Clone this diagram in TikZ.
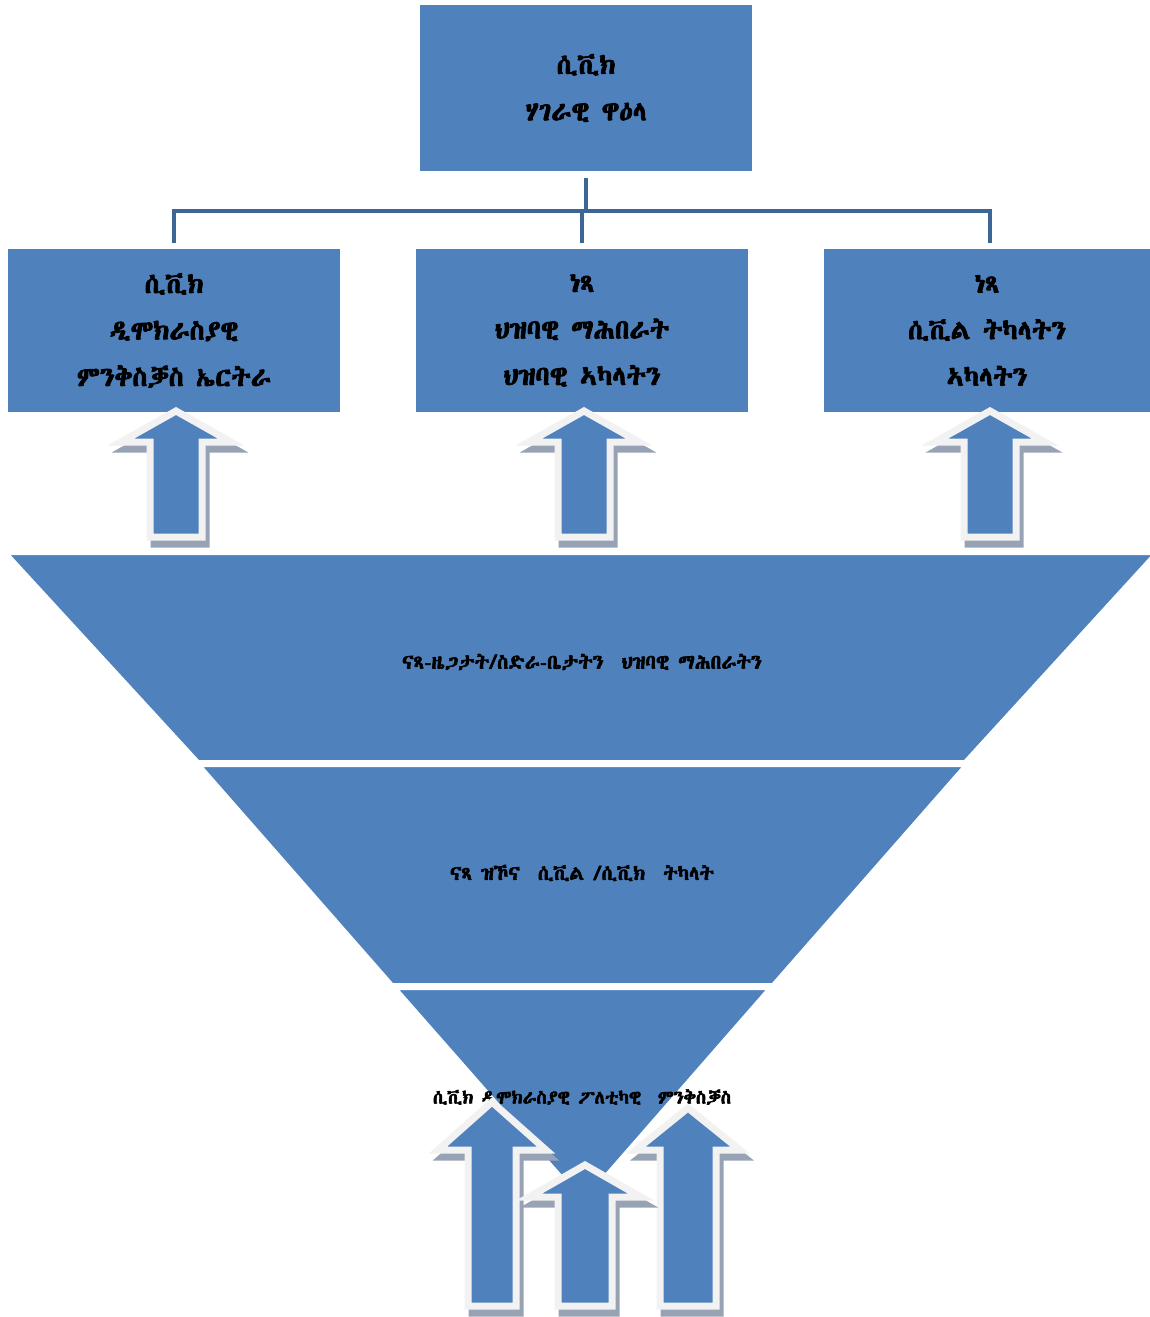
\documentclass[tikz,border=0pt]{standalone}
\usepackage{fontspec}
\IfFontExistsTF{Abyssinica SIL}{\newfontfamily\eth[AutoFakeBold=3]{Abyssinica SIL}}{%
 \IfFontExistsTF{FreeSerif}{\newfontfamily\eth[AutoFakeBold=3]{FreeSerif}}{%
  \IfFontExistsTF{Noto Sans Ethiopic}{\newfontfamily\eth[AutoFakeBold=3]{Noto Sans Ethiopic}}{%
   \newfontfamily\eth[AutoFakeBold=3]{DejaVu Sans}}}}
\definecolor{ofblue}{HTML}{4F81BD}
\definecolor{conncol}{HTML}{3C6696}
\definecolor{arrborder}{HTML}{F2F2F2}
\definecolor{arrshadow}{HTML}{97A3B5}
\tikzset{
  bluebox/.style={fill=ofblue, draw=none, inner sep=0pt, align=center, font=\eth\bfseries\fontsize{27}{46.5}\selectfont},
  conn/.style={draw=conncol, line width=4pt},
  layer/.style={fill=ofblue, draw=white, line width=4pt, line join=miter},
  funneltext/.style={font=\eth\bfseries\fontsize{20}{24}\selectfont, inner sep=0pt},
  arrbody/.style={fill=ofblue, draw=arrborder, line width=7pt, line join=miter},
  arrshad/.style={fill=arrshadow, draw=arrshadow, line width=7pt, line join=miter}
}
% #1 cx, #2 tip y, #3 head base y, #4 head half width, #5 shaft half width, #6 bottom y
\newcommand\uparr[6]{%
  \path[arrshad, shift={(4,7)}] (#1,#2) -- ({#1+#4},#3) -- ({#1+#5},#3) -- ({#1+#5},#6) -- ({#1-#5},#6) -- ({#1-#5},#3) -- ({#1-#4},#3) -- cycle;
  \path[arrbody] (#1,#2) -- ({#1+#4},#3) -- ({#1+#5},#3) -- ({#1+#5},#6) -- ({#1-#5},#6) -- ({#1-#5},#3) -- ({#1-#4},#3) -- cycle;
}
\begin{document}
\begin{tikzpicture}[x=1pt,y=-1pt]
\useasboundingbox[fill=white] (0,0) rectangle (1150,1317);

% top box and level-2 boxes
\node[bluebox, minimum width=332pt, minimum height=166pt] (top) at (586,88) {ሲቪክ\\ሃገራዊ ዋዕላ};
\node[bluebox, minimum width=332pt, minimum height=163pt] (b1) at (174,330.5) {ሲቪክ\\ዲሞክራስያዊ\\ምንቅስቓስ ኤርትራ};
\node[bluebox, minimum width=332pt, minimum height=163pt] (b2) at (582,330.5) {ነጻ\\ህዝባዊ ማሕበራት\\ህዝባዊ ኣካላትን};
\node[bluebox, minimum width=326pt, minimum height=163pt] (b3) at (987,330.5) {ነጻ\\ሲቪል ትካላትን\\ኣካላትን};

% connectors
\coordinate (j) at (586,211);
\draw[conn] ([yshift=-7pt]top.south) -- (j);
\draw[conn] (j) -| ([yshift=6pt]b1.north);
\draw[conn] (j) -| ([xshift=3pt,yshift=6pt]b3.north);
\draw[conn] ([xshift=-4pt]j) -- ([yshift=6pt]b2.north);

% funnel
\path[layer] (6,553) -- (1156,553) -- (965,762) -- (198,762) -- cycle;
\path[layer] (199,765) -- (966,765) -- (773,985) -- (392,985) -- cycle;
\path[layer] (395,988) -- (770,988) -- (583,1202) -- cycle;
\node[funneltext] (f1) at (582,662) {ናጻ-ዜጋታት/ስድራ-ቤታትን\ \ ህዝባዊ ማሕበራትን};
\node[funneltext] (f2) at (582,873) {ናጻ ዝኾና\ \ ሲቪል /ሲቪክ\ \ ትካላት};
\node[funneltext, font=\eth\bfseries\fontsize{18.5}{22}\selectfont] (f3) at (582,1097) {ሲቪክ ዲሞክራስያዊ ፖለቲካዊ\ \ ምንቅስቓስ};

% upward arrows under the boxes
\uparr{176}{411}{442}{55}{26}{537}
\uparr{584}{411}{442}{55}{26}{537}
\uparr{990}{411}{442}{55}{26}{537}

% bottom arrows
\uparr{492}{1102}{1150}{54}{24}{1306}
\uparr{688}{1108}{1150}{52}{28}{1306}
\uparr{585}{1165}{1197}{56}{27}{1306}
\end{tikzpicture}
\end{document}
